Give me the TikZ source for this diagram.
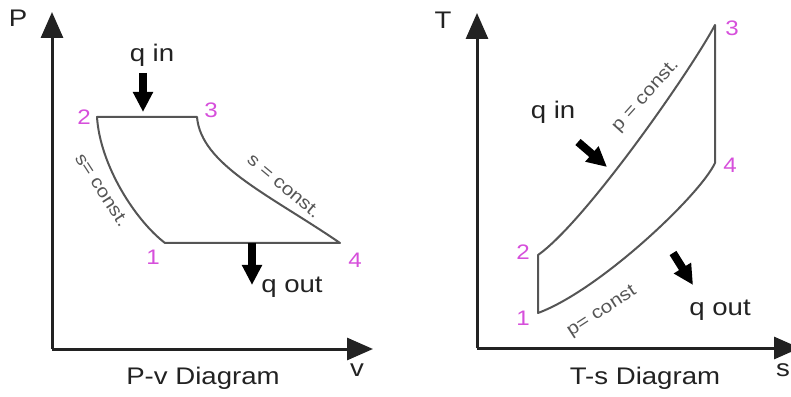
\documentclass[tikz,border=0pt]{standalone}
\usepackage{fontspec}
\setmainfont{Liberation Sans}[FakeStretch=1.15]
\usetikzlibrary{arrows.meta}
\definecolor{ink}{HTML}{222222}
\definecolor{curve}{HTML}{555555}
\definecolor{state}{HTML}{D64FDB}

\begin{document}
\begin{tikzpicture}[
  x=1pt, y=1pt,
  axis/.style ={draw=ink, line width=3pt, -{Triangle[length=26pt, width=22pt]}},
  cyc/.style  ={draw=curve, line width=2pt, line join=round},
  heat/.style ={draw=black, line width=8pt, -{Triangle[length=20pt, width=19pt]}},
  lbl/.style  ={font=\fontsize{24}{28}\selectfont, text=ink, inner sep=0pt},
  num/.style  ={font=\fontsize{21}{24}\selectfont, text=state, inner sep=0pt},
  note/.style ={font=\fontsize{18}{20}\selectfont, text=curve, inner sep=0pt}
]
\useasboundingbox (0,0) rectangle (791,396);

% P-v diagram
\coordinate (o1)   at (52,47);
\coordinate (ptop) at (52,384);
\coordinate (vend) at (373,47);
\draw[axis] (o1) -- (ptop);
\draw[axis] (o1) -- (vend);
\node[lbl] (plab) at (18,378) {P};
\node[lbl] (vlab) at (357,26) {v};
\node[lbl] (pvtitle) at (203,18) {P-v Diagram};

\coordinate (a1) at (165,153);
\coordinate (a2) at (97,279);
\coordinate (a3) at (197,279);
\coordinate (a4) at (340,153);
\draw[cyc] (a1) -- (a4) .. controls +(-70,48) and +(4,-48) .. (a3) -- (a2)
  .. controls +(3,-48) and +(-30,23) .. (a1) -- cycle;

\node[num] (n1) at (153,139) {1};
\node[num] (n2) at (84,279)  {2};
\node[num] (n3) at (211,286) {3};
\node[num] (n4) at (355,136) {4};

\node[note, rotate=-57] (s12) at (102,206) {s= const.};
\node[note, rotate=-40] (s34) at (284,210) {s = const.};

\node[lbl] (qin1) at (152,341) {q in};
\coordinate (qa) at (143,323);
\coordinate (qb) at (143,284);
\draw[heat] (qa) -- (qb);
\coordinate (qc) at (252,153);
\coordinate (qd) at (252,111);
\draw[heat] (qc) -- (qd);
\node[lbl] (qout1) at (292,109) {q out};

% T-s diagram
\coordinate (o2)   at (477,48);
\coordinate (ttop) at (477,383);
\coordinate (send) at (800,48);
\draw[axis] (o2) -- (ttop);
\draw[axis] (o2) -- (send);
\node[lbl] (tlab) at (443,376) {T};
\node[lbl] (slab) at (783,26) {s};
\node[lbl] (tstitle) at (645,18) {T-s Diagram};

\coordinate (b1) at (538,83);
\coordinate (b2) at (538,141);
\coordinate (b3) at (715,371);
\coordinate (b4) at (715,233);
\draw[cyc] (b1) -- (b2) .. controls +(47,33) and +(-25,-47) .. (b3) -- (b4)
  .. controls +(-15,-32) and +(62,23) .. (b1) -- cycle;

\node[num] (m1) at (523,78)  {1};
\node[num] (m2) at (523,144) {2};
\node[num] (m3) at (732,368) {3};
\node[num] (m4) at (730,231) {4};

\node[note, rotate=48] (p23) at (646,300) {p = const.};
\node[note, rotate=33] (p41) at (602,84)  {p= const};

\node[lbl] (qin2) at (553,284) {q in};
\coordinate (ra) at (578,254);
\coordinate (rb) at (607,229);
\draw[heat] (ra) -- (rb);
\coordinate (rc) at (673,143);
\coordinate (rd) at (693,111);
\draw[heat] (rc) -- (rd);
\node[lbl] (qout2) at (720,86) {q out};

\end{tikzpicture}
\end{document}
